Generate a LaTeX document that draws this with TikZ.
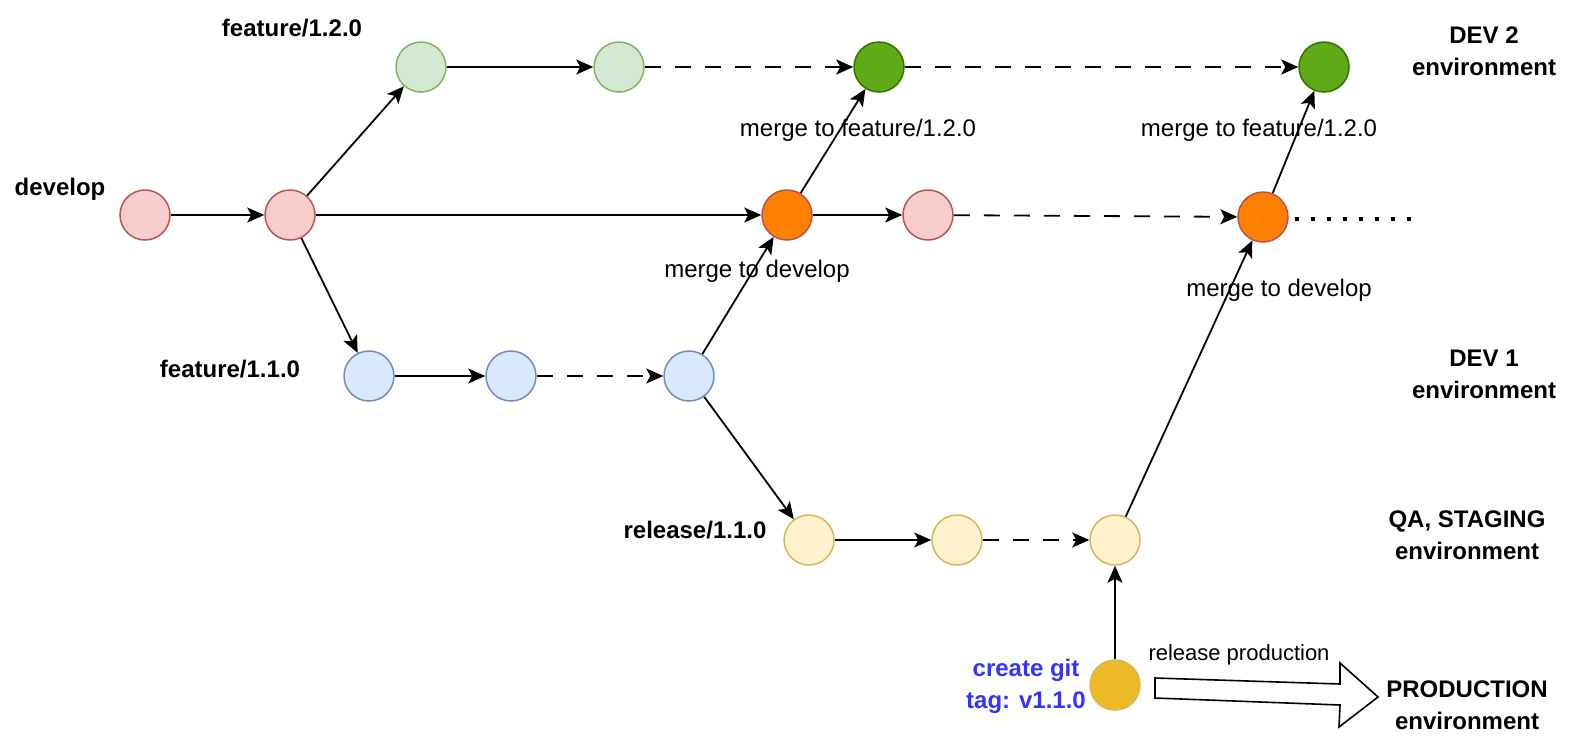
\documentclass[tikz,border=0pt]{standalone}
\usepackage{fontspec}
\setmainfont{Liberation Sans}
\usetikzlibrary{arrows.meta}

\definecolor{devfill}{HTML}{F8CECC}
\definecolor{devline}{HTML}{B85450}
\definecolor{ftrfill}{HTML}{D5E8D4}
\definecolor{ftrline}{HTML}{82B366}
\definecolor{mrgfill}{HTML}{60A917}
\definecolor{mrgline}{HTML}{2D7600}
\definecolor{orgfill}{HTML}{FF8000}
\definecolor{bluefill}{HTML}{DAE8FC}
\definecolor{blueline}{HTML}{6C8EBF}
\definecolor{relfill}{HTML}{FFF2CC}
\definecolor{relline}{HTML}{D6B656}
\definecolor{tagfill}{HTML}{EBBA26}
\definecolor{tagtext}{HTML}{3333FF}

\begin{document}
\begin{tikzpicture}[x=0.5pt, y=-0.5pt,
  commit/.style={draw, circle, minimum size=25pt, inner sep=0pt, line width=0.75pt},
  txt/.style={font=\fontsize{12}{16}\selectfont, align=center},
  btxt/.style={font=\fontsize{12}{16}\selectfont\bfseries, align=center},
  flow/.style={-{Stealth[length=8.5pt, width=7.5pt, inset=2pt]}, line width=0.9pt},
  later/.style={flow, dash pattern=on 8pt off 7pt}]
\useasboundingbox (0,0) rectangle (1578,740);

% develop
\node[commit, fill=devfill, draw=devline] (d1) at (145,215) {};
\node[commit, fill=devfill, draw=devline] (d2) at (290,215) {};
\node[commit, fill=orgfill, draw=devline] (d3) at (787,215) {};
\node[commit, fill=devfill, draw=devline] (d4) at (928,215) {};
\node[commit, fill=orgfill, draw=devline] (d5) at (1263,217) {};
\coordinate (dend) at (1415,219);

% feature/1.2.0
\node[commit, fill=ftrfill, draw=ftrline] (f1) at (421,67) {};
\node[commit, fill=ftrfill, draw=ftrline] (f2) at (619,67) {};
\node[commit, fill=mrgfill, draw=mrgline] (f3) at (879,67) {};
\node[commit, fill=mrgfill, draw=mrgline] (f4) at (1324,67) {};

% feature/1.1.0
\node[commit, fill=bluefill, draw=blueline] (g1) at (369,376) {};
\node[commit, fill=bluefill, draw=blueline] (g2) at (511,376) {};
\node[commit, fill=bluefill, draw=blueline] (g3) at (689,376) {};

% release/1.1.0
\node[commit, fill=relfill, draw=relline] (r1) at (809,540) {};
\node[commit, fill=relfill, draw=relline] (r2) at (957,540) {};
\node[commit, fill=relfill, draw=relline] (r3) at (1115,540) {};
\node[commit, fill=tagfill, draw=relline] (tag) at (1115,685) {};

% branch names
\node[btxt] (ldev) at (60,189) {develop};
\node[btxt] (lf12) at (292,28) {feature/1.2.0};
\node[btxt] (lf11) at (230,369) {feature/1.1.0};
\node[btxt] (lrel) at (695,530) {release/1.1.0};
\node[btxt, text=tagtext] (ltag) at (1026,686) {create git\\tag: v1.1.0};

% environments
\node[btxt] (env2) at (1484,51) {DEV 2\\environment};
\node[btxt] (env1) at (1484,374) {DEV 1\\environment};
\node[btxt] (envqa) at (1467,535) {QA, STAGING\\environment};
\node[btxt] (envprod) at (1467,705) {PRODUCTION\\environment};

% merge labels
\node[txt] (m1) at (858,130) {merge to feature/1.2.0};
\node[txt] (m2) at (1259,130) {merge to feature/1.2.0};
\node[txt] (m3) at (757,271) {merge to develop};
\node[txt] (m4) at (1279,290) {merge to develop};
\node[txt, font=\fontsize{11}{13}\selectfont] (lprod) at (1239,655) {release production};

\draw[flow] (d1) -- (d2);
\draw[flow] (d2) -- (f1);
\draw[flow] (d2) -- (d3);
\draw[flow] (d2) -- (g1);
\draw[flow] (f1) -- (f2);
\draw[later] (f2) -- (f3);
\draw[later] (f3) -- (f4);
\draw[flow] (d3) -- (f3);
\draw[flow] (d3) -- (d4);
\draw[later] (d4) -- (d5);
\draw[line width=2pt, dash pattern=on 2pt off 6pt] (d5.east) ++(6,2) -- (dend);
\draw[flow] (d5) -- (f4);
\draw[flow] (g1) -- (g2);
\draw[later] (g2) -- (g3);
\draw[flow] (g3) -- (d3);
\draw[flow] (g3) -- (r1);
\draw[flow] (r1) -- (r2);
\draw[later] (r2) -- (r3);
\draw[flow] (r3) -- (d5);
\draw[flow] (tag) -- (r3);

% release arrow
\draw[line width=0.8pt, fill=white, line join=miter]
  (1155,678) -- (1340,684) -- (1340,663) -- (1378,697) -- (1339,727)
  -- (1340,705) -- (1155,698) -- cycle;
\end{tikzpicture}
\end{document}
